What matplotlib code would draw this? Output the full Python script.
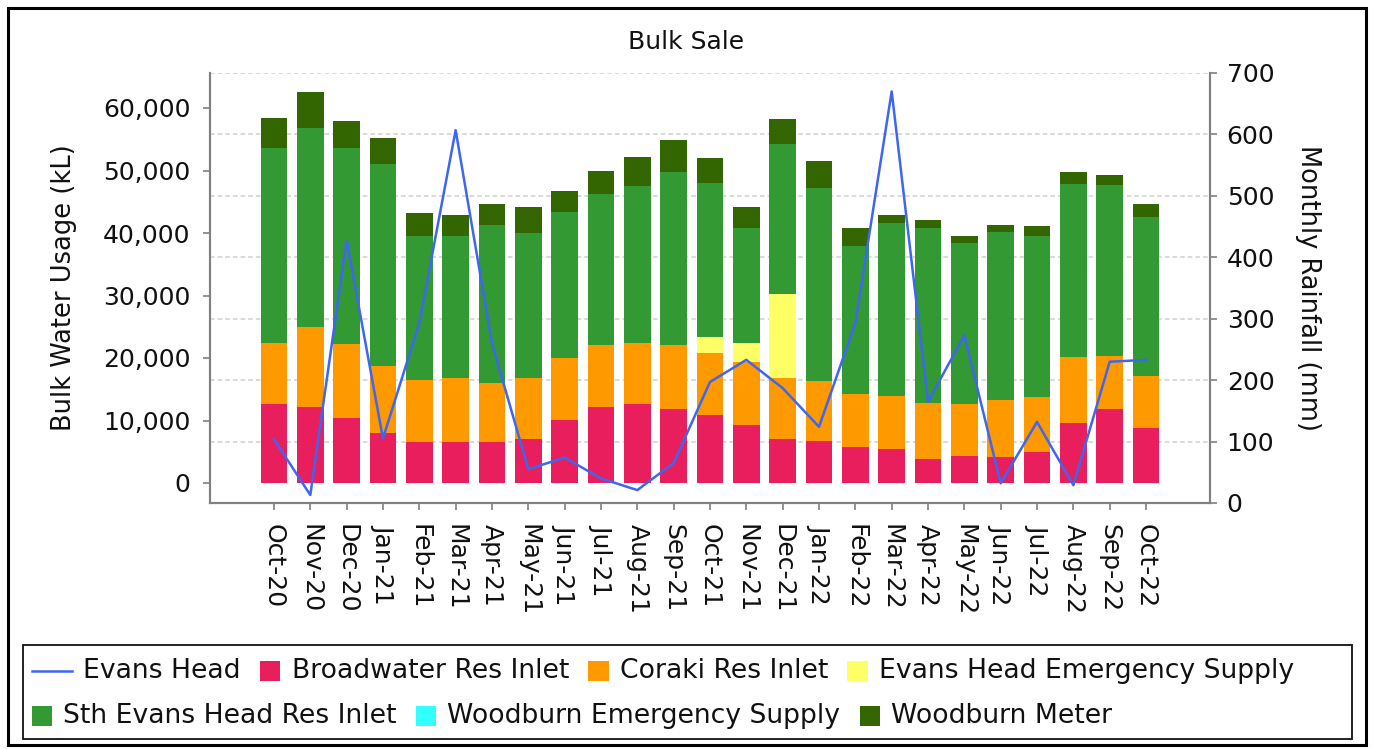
import matplotlib
matplotlib.use("Agg")
import matplotlib.pyplot as plt
import numpy as np
from matplotlib.lines import Line2D
from matplotlib.patches import Rectangle
from matplotlib.offsetbox import AnchoredOffsetbox, DrawingArea, HPacker, TextArea
from matplotlib.ticker import FuncFormatter

plt.rcParams["font.family"] = ["DejaVu Sans"]

months = ["Oct-20", "Nov-20", "Dec-20", "Jan-21", "Feb-21", "Mar-21", "Apr-21",
          "May-21", "Jun-21", "Jul-21", "Aug-21", "Sep-21", "Oct-21", "Nov-21",
          "Dec-21", "Jan-22", "Feb-22", "Mar-22", "Apr-22", "May-22", "Jun-22",
          "Jul-22", "Aug-22", "Sep-22", "Oct-22"]

# kL per source (stack order bottom -> top)
broadwater = [12600, 12200, 10450, 7950, 6610, 6610, 6610, 7040, 10080, 12210,
              12590, 11790, 10880, 9280, 7040, 6720, 5810, 5390, 3790, 4320,
              4210, 4910, 9650, 11790, 8750]
coraki = [9850, 12800, 11740, 10770, 9870, 10140, 9440, 9810, 9870, 9870,
          9860, 10290, 9870, 10130, 9810, 9600, 8380, 8530, 8960, 8270,
          9070, 8900, 10560, 8580, 8420]
evans_emergency = [0, 0, 0, 0, 0, 0, 0, 0, 0, 0,
                   0, 0, 2560, 3040, 13340, 0, 0, 0, 0, 0,
                   0, 0, 0, 0, 0]
sth_evans = [31100, 31850, 31360, 32320, 23040, 22820, 25230, 23100, 23350, 24160,
             25070, 27630, 24640, 18300, 24000, 30930, 23730, 27730, 28000, 25860,
             26930, 25760, 27580, 27310, 25440]
woodburn_emergency = [0] * 25
woodburn_meter = [4800, 5650, 4420, 4110, 3730, 3310, 3360, 4260, 3470, 3730,
                  4690, 5170, 4000, 3460, 4050, 4270, 2830, 1230, 1330, 1070,
                  1070, 1600, 1920, 1600, 2030]

# Evans Head monthly rainfall (mm)
rainfall = [104, 13, 428, 105, 293, 607, 260, 55, 74, 40, 21, 65,
            197, 233, 187, 124, 293, 670, 165, 273, 32, 132, 29, 230, 233]

series = [
    ("Broadwater Res Inlet", broadwater, "#E91E5C"),
    ("Coraki Res Inlet", coraki, "#FF9900"),
    ("Evans Head Emergency Supply", evans_emergency, "#FFFF66"),
    ("Sth Evans Head Res Inlet", sth_evans, "#339933"),
    ("Woodburn Emergency Supply", woodburn_emergency, "#33FFFF"),
    ("Woodburn Meter", woodburn_meter, "#336600"),
]
line_color = "#3D66F2"
spine_color = "#808080"
text_color = "#111111"

W, H = 1373, 749
fig = plt.figure(figsize=(W / 100, H / 100), dpi=100)
ax = fig.add_axes([210 / W, 1 - 503 / H, 1000 / W, 430 / H])
ax2 = ax.twinx()

x = np.arange(len(months))
left_lim = (-3200, 65600)
right_lim = (0, 700)

# dashed grid following the rainfall axis, drawn behind the bars
for r in range(100, 701, 100):
    yv = left_lim[0] + r / right_lim[1] * (left_lim[1] - left_lim[0])
    ax.axhline(yv, color="#cfcfcf", lw=1.1, dashes=(3, 2), zorder=0)

bottom = np.zeros(len(months))
for name, vals, col in series:
    vals = np.array(vals, dtype=float)
    ax.bar(x, vals, width=0.74, bottom=bottom, color=col, zorder=2, linewidth=0)
    bottom += vals

ax2.plot(x, rainfall, color=line_color, lw=1.8, zorder=3)

ax.set_xlim(-1.76, len(months) - 1 + 1.76)
ax.set_ylim(*left_lim)
ax2.set_ylim(*right_lim)

ax.set_yticks(np.arange(0, 60001, 10000))
ax.yaxis.set_major_formatter(FuncFormatter(lambda v, p: f"{int(v):,}"))
ax2.set_yticks(np.arange(0, 701, 100))

ax.set_xticks(x)
ax.set_xticklabels(months, rotation=270)

for a in (ax, ax2):
    for s in a.spines.values():
        s.set_color(spine_color)
        s.set_linewidth(1.5)
    a.spines["top"].set_visible(False)
    a.tick_params(colors=spine_color, labelcolor=text_color, width=1.2,
                  length=5, labelsize=18)
ax.tick_params(axis="y", pad=9)
ax.tick_params(axis="x", pad=10)
ax2.tick_params(axis="y", pad=7)

ax.set_ylabel("Bulk Water Usage (kL)", fontsize=18.5, color=text_color)
ax.yaxis.set_label_coords(-0.133, 0.5)
ax2.set_ylabel("Monthly Rainfall (mm)", fontsize=18.5, color=text_color,
               rotation=270, va="bottom")
ax2.yaxis.set_label_coords(1.085, 0.5)

fig.text(0.5, 1 - 42 / H, "Bulk Sale", ha="center", va="center",
         fontsize=18, color=text_color)

# legend: two flowing rows inside a framed box
fs = 19.2
def legend_item(handle, label):
    if handle == "line":
        da = DrawingArea(29, 15, 0, 0)
        da.add_artist(Line2D([0, 29], [7.5, 7.5], color=line_color, lw=1.8))
    else:
        da = DrawingArea(14.5, 15, 0, 0)
        da.add_artist(Rectangle((0, 0), 14.5, 15, facecolor=handle, edgecolor="none"))
    ta = TextArea(label, textprops=dict(fontsize=fs, color=text_color))
    return HPacker(children=[da, ta], align="center", pad=0, sep=8)

row1 = [legend_item("line", "Evans Head")] + \
       [legend_item(c, n) for n, _, c in series[:3]]
row2 = [legend_item(c, n) for n, _, c in series[3:]]
for row, yc in ((row1, 671), (row2, 716)):
    box = HPacker(children=row, align="center", pad=0, sep=14)
    anc = AnchoredOffsetbox(loc="center left", child=box, pad=0, borderpad=0,
                            frameon=False, bbox_to_anchor=(32 / W, 1 - yc / H),
                            bbox_transform=fig.transFigure)
    fig.add_artist(anc)

fig.add_artist(Rectangle((23 / W, 1 - 739 / H), (1352 - 23) / W, (739 - 645) / H,
                         transform=fig.transFigure, fill=False,
                         edgecolor=text_color, lw=1.3))
fig.add_artist(Rectangle((8 / W, 1 - 745 / H), (1366 - 8) / W, (745 - 8) / H,
                         transform=fig.transFigure, fill=False,
                         edgecolor="black", lw=2.2))

fig.savefig("out.png", dpi=100)
